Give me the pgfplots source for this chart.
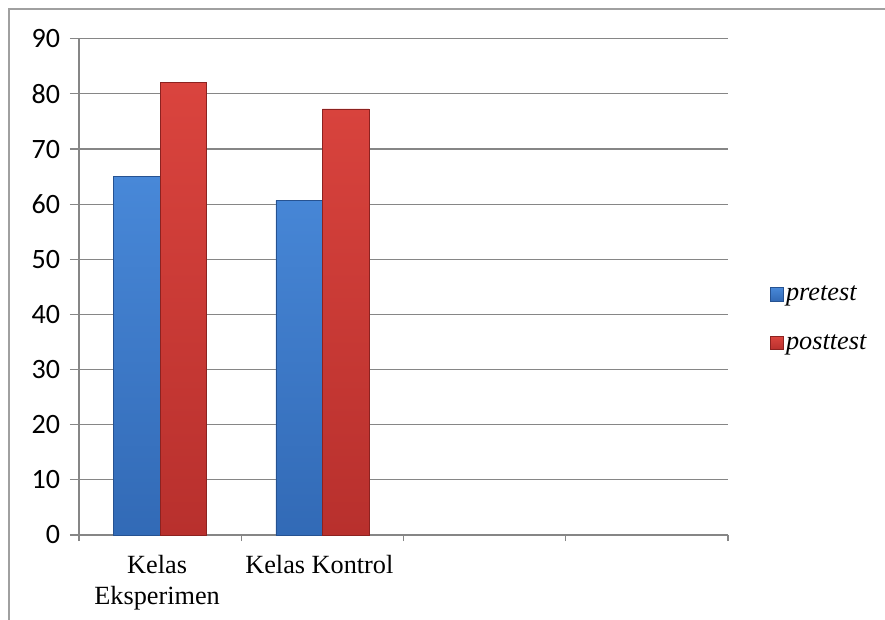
\documentclass[border=0pt]{standalone}
\usepackage{fontspec}
\setmainfont{Liberation Serif}
\newfontfamily\carlito{Carlito}
\usepackage{pgfplots}
\pgfplotsset{compat=1.18}
\definecolor{btop}{RGB}{72,136,216}
\definecolor{bbot}{RGB}{50,106,182}
\definecolor{bedge}{RGB}{38,82,145}
\definecolor{rtop}{RGB}{218,68,62}
\definecolor{rbot}{RGB}{184,48,45}
\definecolor{redge}{RGB}{140,34,32}
\definecolor{gridc}{RGB}{134,134,134}
\definecolor{framec}{RGB}{160,160,160}
\begin{document}
\begin{tikzpicture}
\useasboundingbox (0,0) rectangle (663.75pt,464.25pt);
\draw[framec, line width=0.8pt] (6.75pt,-2pt) -- (6.75pt,457.5pt) -- (670pt,457.5pt);
\begin{axis}[
  at={(59.25pt,63pt)}, anchor=south west,
  scale only axis, width=486.75pt, height=372.2pt,
  ymin=0, ymax=90, ytick={0,10,...,90},
  xmin=-0.5, xmax=3.5,
  xtick={0,1,2,3},
  xticklabels={{Kelas\\Eksperimen},{Kelas Kontrol},{},{}},
  minor xtick={-0.5,0.5,1.5,2.5,3.5},
  axis x line*=bottom, axis y line*=left,
  axis line style={gridc, line width=0.9pt, -},
  tick align=outside,
  x tick style={draw=none},
  minor x tick style={draw=gridc, line width=0.9pt},
  minor tick length=4.5pt,
  y tick style={gridc, line width=0.9pt},
  major tick length=6.75pt,
  ymajorgrids, major grid style={gridc, line width=0.9pt},
  /pgf/number format/assume math mode=true,
  yticklabel style={font=\carlito\fontsize{21}{23}\selectfont, anchor=east},
  yticklabel shift=4pt,
  xticklabel style={font=\fontsize{19.7}{23}\selectfont, align=center, yshift=-5pt, xshift=-2.25pt},
  ybar=0pt, bar width=0.2865,
  legend style={at={(1.058,0.436)}, anchor=west, draw=none, fill=none,
    font=\fontsize{19.7}{22.5}\selectfont\itshape, row sep=20pt,
    /tikz/every even column/.append style={column sep=2pt}},
  legend cell align=left,
  legend image code/.code={\path[#1] (0pt,-4.9pt) rectangle (9.75pt,4.9pt);},
]
\addplot[draw=bedge, line width=0.4pt, top color=btop, bottom color=bbot]
  coordinates {(0,65) (1,60.7)};
\addplot[draw=redge, line width=0.4pt, top color=rtop, bottom color=rbot]
  coordinates {(0,82.1) (1,77.3)};
\legend{pretest,posttest}
\end{axis}
\end{tikzpicture}
\end{document}
